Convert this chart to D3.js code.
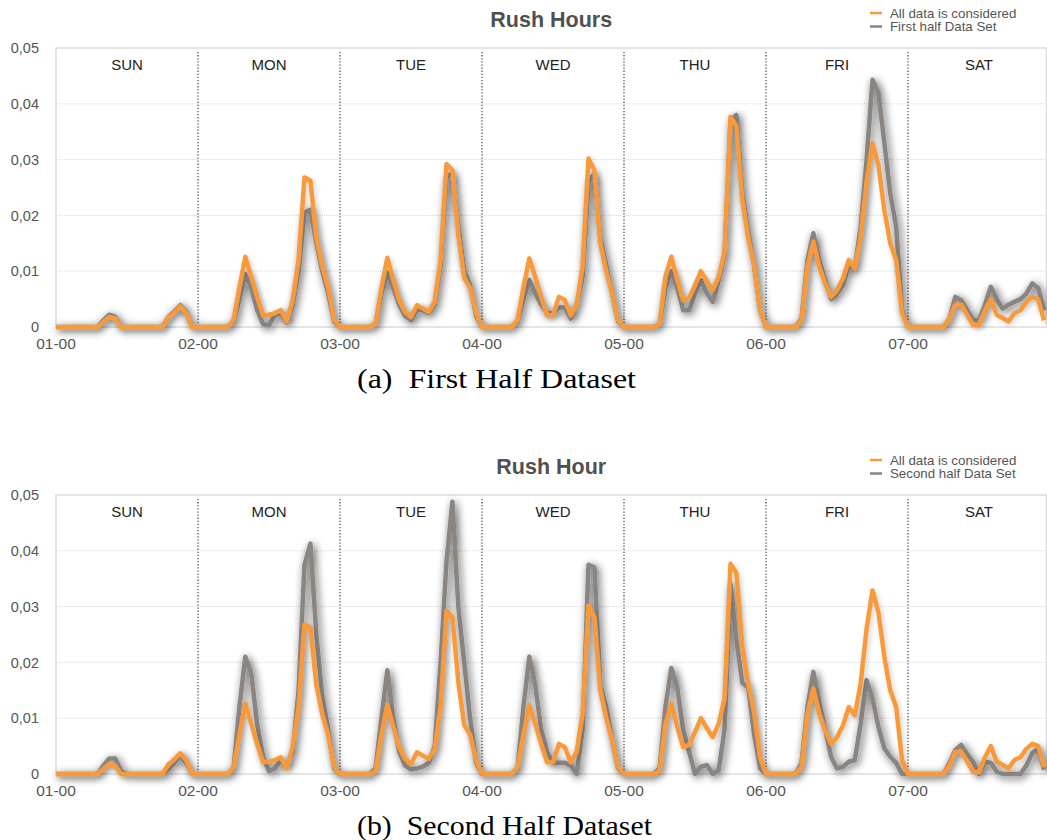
<!DOCTYPE html>
<html>
<head>
<meta charset="utf-8">
<script src="https://cdn.jsdelivr.net/npm/d3@7"></script>
<style>
  body { margin: 0; background: #fff; }
  svg { display: block; }
</style>
</head>
<body>
<div id="chart-area"></div>
<script>
// hourly share of trips, one row per day (SUN..SAT), 24 values each
var days = ["SUN", "MON", "TUE", "WED", "THU", "FRI", "SAT"];
var dayTicks = ["01-00", "02-00", "03-00", "04-00", "05-00", "06-00", "07-00"];
var yTicks = [0, 0.01, 0.02, 0.03, 0.04, 0.05];

var allData = [
  0,0,0,0,0,0,0,0,0.0009,0.0018,0.0015,0,0,0,0,0,0,0,0,0.0017,0.0026,0.0037,0.0025,0,
  0,0,0,0,0,0,0.0012,0.007,0.0126,0.009,0.0054,0.0021,0.0022,0.0025,0.003,0.001,0.0048,0.012,0.0268,0.0262,0.016,0.0108,0.007,0.0013,
  0,0,0,0,0,0,0.0005,0.007,0.0124,0.0085,0.0048,0.0027,0.0018,0.0039,0.0033,0.0027,0.0045,0.012,0.0292,0.0281,0.0165,0.0088,0.007,0.0025,
  0,0,0,0,0,0,0.0012,0.007,0.0123,0.009,0.0054,0.0021,0.0021,0.0054,0.0048,0.0021,0.004,0.0108,0.0302,0.0281,0.015,0.010,0.006,0.0012,
  0,0,0,0,0,0,0.0005,0.009,0.0126,0.0085,0.0048,0.0052,0.0075,0.0100,0.0082,0.0066,0.009,0.0135,0.0377,0.036,0.0228,0.016,0.011,0.003,
  0,0,0,0,0,0,0.0012,0.0108,0.0153,0.0108,0.0078,0.0054,0.0066,0.0087,0.012,0.0105,0.0162,0.026,0.0329,0.029,0.021,0.015,0.012,0.0025,
  0,0,0,0,0,0,0,0.0015,0.004,0.004,0.0022,0.0004,0.0003,0.003,0.005,0.0022,0.0016,0.001,0.0025,0.003,0.0045,0.0054,0.005,0.0012
];

var firstHalf = [
  0,0,0,0,0,0,0,0,0.0012,0.0022,0.0018,0,0,0,0,0,0,0,0,0.0018,0.0028,0.0039,0.0027,0,
  0,0,0,0,0,0,0.001,0.005,0.0095,0.007,0.003,0.0005,0.0003,0.0022,0.0025,0.0008,0.004,0.01,0.0205,0.021,0.015,0.01,0.006,0.001,
  0,0,0,0,0,0,0.0005,0.006,0.0098,0.007,0.004,0.002,0.0012,0.0032,0.003,0.0025,0.004,0.011,0.027,0.0275,0.018,0.01,0.0075,0.002,
  0,0,0,0,0,0,0.001,0.005,0.0084,0.006,0.004,0.0025,0.0025,0.0035,0.0035,0.0015,0.004,0.009,0.026,0.0275,0.016,0.011,0.006,0.001,
  0,0,0,0,0,0,0.0005,0.007,0.010,0.007,0.003,0.003,0.006,0.0084,0.006,0.0045,0.0084,0.013,0.037,0.038,0.024,0.017,0.011,0.003,
  0,0,0,0,0,0,0.0015,0.012,0.0168,0.012,0.0085,0.005,0.006,0.0075,0.011,0.0105,0.018,0.03,0.0443,0.042,0.033,0.024,0.018,0.003,
  0,0,0,0,0,0,0,0.0015,0.0054,0.0048,0.003,0.0012,0.0012,0.004,0.0072,0.005,0.0033,0.004,0.0045,0.005,0.006,0.0078,0.007,0.003
];

var secondHalf = [
  0,0,0,0,0,0,0,0,0.0015,0.0028,0.0028,0.0005,0,0,0,0,0,0,0,0.0008,0.002,0.0035,0.002,0,
  0,0,0,0,0,0,0.001,0.012,0.021,0.018,0.009,0.003,0.0005,0.001,0.0025,0.0015,0.004,0.015,0.0375,0.0413,0.025,0.014,0.008,0.001,
  0,0,0,0,0,0,0.001,0.01,0.0186,0.01,0.004,0.0015,0.0008,0.001,0.0013,0.002,0.005,0.02,0.038,0.0488,0.03,0.02,0.01,0.002,
  0,0,0,0,0,0,0.001,0.012,0.021,0.016,0.008,0.004,0.002,0.002,0.002,0.0015,0,0.008,0.0375,0.037,0.016,0.012,0.006,0.001,
  0,0,0,0,0,0,0.001,0.012,0.019,0.0155,0.008,0.004,0,0.0013,0.0016,0,0.0007,0.008,0.034,0.024,0.0163,0.0155,0.007,0.001,
  0,0,0,0,0,0,0.002,0.012,0.0183,0.013,0.008,0.0031,0.001,0.0013,0.0022,0.0025,0.009,0.0168,0.0135,0.0085,0.0046,0.0031,0.002,0,
  0,0,0,0,0,0,0,0.002,0.0043,0.0052,0.0035,0.0022,0,0.0022,0.002,0.0004,0,0,0,0,0.0015,0.0037,0.0045,0.0008
];

var panels = [
  { title: "Rush Hours", label: "First half Data Set", caption: "(a)\u2002First Half Dataset", capW: 279, gray: firstHalf, top: 48 },
  { title: "Rush Hour", label: "Second half Data Set", caption: "(b)\u2002Second Half Dataset", capW: 295, gray: secondHalf, top: 495 }
];

var orange = "#f89a3a", grey = "#8a8580";
var plotH = 279;

var svg = d3.select("#chart-area")
  .append("svg")
  .attr("width", 1047)
  .attr("height", 840);

var defs = svg.append("defs");
function shadow(id, sd, op) {
  var f = defs.append("filter").attr("id", id)
    .attr("x", "-5%").attr("y", "-20%").attr("width", "110%").attr("height", "140%");
  f.append("feGaussianBlur").attr("in", "SourceAlpha").attr("stdDeviation", sd).attr("result", "b");
  f.append("feOffset").attr("in", "b").attr("dx", 1.5).attr("dy", 2).attr("result", "o");
  f.append("feComponentTransfer").attr("in", "o").attr("result", "s")
    .append("feFuncA").attr("type", "linear").attr("slope", op);
  var m = f.append("feMerge");
  m.append("feMergeNode").attr("in", "s");
  m.append("feMergeNode").attr("in", "SourceGraphic");
}
shadow("shadowGrey", 4, 0.7);
shadow("shadowOrange", 2.5, 0.18);

var x = d3.scaleLinear().domain([0, 168]).range([56, 1050]);

panels.forEach(function(p) {
  var g = svg.append("g");
  var y = d3.scaleLinear().domain([0, 0.05]).range([p.top + plotH, p.top]);
  var right = x(167.4);

  // grid
  g.selectAll(".grid").data(yTicks.slice(1, -1)).enter().append("line")
    .attr("x1", x(0)).attr("x2", right)
    .attr("y1", d => y(d)).attr("y2", d => y(d))
    .attr("stroke", "#d8d8d8").attr("stroke-width", 1).attr("stroke-dasharray", "1,1");

  // frame
  g.append("rect")
    .attr("x", x(0)).attr("y", y(0.05))
    .attr("width", right - x(0)).attr("height", y(0) - y(0.05))
    .attr("fill", "none").attr("stroke", "#dcdcdc").attr("stroke-width", 1.5);

  // day separators
  g.selectAll(".sep").data(d3.range(1, 7)).enter().append("line")
    .attr("x1", d => x(d * 24)).attr("x2", d => x(d * 24))
    .attr("y1", y(0.05) + 4).attr("y2", y(0))
    .attr("stroke", "#444").attr("stroke-width", 1.2).attr("stroke-dasharray", "1.3,1.8");

  // day names
  g.selectAll(".day").data(days).enter().append("text")
    .attr("x", (d, i) => x(i * 24 + 12))
    .attr("y", y(0.05) + 22)
    .attr("text-anchor", "middle")
    .attr("font-family", "Liberation Sans, Arial, sans-serif")
    .attr("font-size", 15).attr("fill", "#222")
    .text(d => d);

  // y ticks
  g.selectAll(".yl").data(yTicks).enter().append("text")
    .attr("x", 39).attr("y", d => y(d))
    .attr("dy", "0.36em")
    .attr("text-anchor", "end")
    .attr("font-family", "Liberation Sans, Arial, sans-serif")
    .attr("font-size", 14.5).attr("fill", "#555")
    .text(d => d === 0 ? "0" : d3.format(".2f")(d).replace(".", ","));

  // x ticks
  g.selectAll(".xl").data(dayTicks).enter().append("text")
    .attr("x", (d, i) => x(i * 24)).attr("y", y(0) + 22)
    .attr("text-anchor", "middle")
    .attr("font-family", "Liberation Sans, Arial, sans-serif")
    .attr("font-size", 15.5).attr("fill", "#555")
    .text(d => d);

  var line = d3.line().x((d, i) => x(i)).y(d => y(d));

  g.append("path").datum(p.gray)
    .attr("d", line).attr("fill", "none")
    .attr("stroke", grey).attr("stroke-width", 4.5).attr("stroke-linejoin", "round")
    .attr("filter", "url(#shadowGrey)");
  g.append("path").datum(allData)
    .attr("d", line).attr("fill", "none")
    .attr("stroke", orange).attr("stroke-width", 4.5).attr("stroke-linejoin", "round")
    .attr("filter", "url(#shadowOrange)");

  // title
  g.append("text")
    .attr("x", (x(0) + right) / 2).attr("y", p.top - 21)
    .attr("text-anchor", "middle")
    .attr("font-family", "Liberation Sans, Arial, sans-serif")
    .attr("font-weight", "bold").attr("font-size", 21.5).attr("fill", "#505050")
    .text(p.title);

  // legend
  var lg = g.append("g").attr("transform", "translate(870," + (p.top - 35) + ")");
  [["All data is considered", orange], [p.label, grey]].forEach(function(e, i) {
    lg.append("line").attr("x1", 0).attr("x2", 12)
      .attr("y1", i * 13.5).attr("y2", i * 13.5)
      .attr("stroke", e[1]).attr("stroke-width", 2.5);
    lg.append("text").attr("x", 20).attr("y", i * 13.5 + 4.5)
      .attr("font-family", "Liberation Sans, Arial, sans-serif")
      .attr("font-size", 13.3).attr("fill", "#555")
      .text(e[0]);
  });

  // caption
  g.append("text")
    .attr("x", 357).attr("y", y(0) + 60.5)
    .attr("font-family", "Liberation Serif, Times New Roman, serif")
    .attr("font-size", 28).attr("fill", "#000")
    .attr("textLength", p.capW).attr("lengthAdjust", "spacingAndGlyphs")
    .text(p.caption);
});
</script>
</body>
</html>
